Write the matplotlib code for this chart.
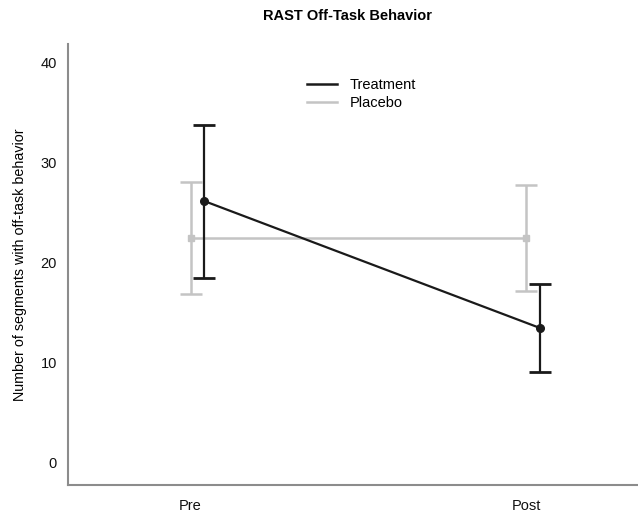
import matplotlib
matplotlib.use("Agg")
import matplotlib.pyplot as plt
from matplotlib.lines import Line2D
import numpy as np

plt.rcParams['font.family'] = ['Liberation Sans', 'DejaVu Sans']

times = ["Pre", "Post"]

treat_mean = [26.2, 13.5]
treat_low = [18.5, 9.1]
treat_high = [33.8, 17.9]

plac_mean = [22.5, 22.5]
plac_low = [16.9, 17.2]
plac_high = [28.1, 27.8]

x = np.arange(len(times))

fig = plt.figure(figsize=(6.38, 5.15), dpi=100)
ax = fig.add_axes([0.1066, 0.0583, 0.8934, 0.8563])

# placebo drawn first, light grey
pm = np.array(plac_mean)
ax.errorbar(x, pm, yerr=[pm - np.array(plac_low), np.array(plac_high) - pm],
            color='#c4c4c4', lw=1.8, capsize=8, capthick=1.8,
            marker='s', ms=5, label='Placebo', zorder=2)

tm = np.array(treat_mean)
ax.errorbar(x + 0.04, tm, yerr=[tm - np.array(treat_low), np.array(treat_high) - tm],
            color='#1a1a1a', lw=1.6, capsize=8, capthick=2.0,
            marker='o', ms=5.5, label='Treatment', zorder=3)

ax.set_xlim(-0.365, 1.332)
ax.set_ylim(-2.2, 41.9)
ax.set_yticks([0, 10, 20, 30, 40])
ax.set_xticks(x)
ax.set_xticklabels(times)
ax.tick_params(length=0, labelsize=10.5, colors='#111111', pad=10)
ax.tick_params(axis='y', pad=8)

for s in ['top', 'right']:
    ax.spines[s].set_visible(False)
for s in ['left', 'bottom']:
    ax.spines[s].set_color('#8c8c8c')
    ax.spines[s].set_linewidth(1.5)

ax.set_ylabel("Number of segments with off-task behavior", fontsize=10.3, labelpad=10)
ax.set_title("RAST Off-Task Behavior", fontsize=10.5, fontweight='bold', x=0.49, pad=17)

handles = [Line2D([], [], color='#1a1a1a', lw=1.8), Line2D([], [], color='#c4c4c4', lw=1.8)]
ax.legend(handles, ['Treatment', 'Placebo'], loc='upper left', bbox_to_anchor=(0.397, 0.953),
          frameon=False, fontsize=10.5, handlelength=2.0, labelspacing=0.3, handletextpad=0.9)

fig.savefig("out.png", dpi=100)
